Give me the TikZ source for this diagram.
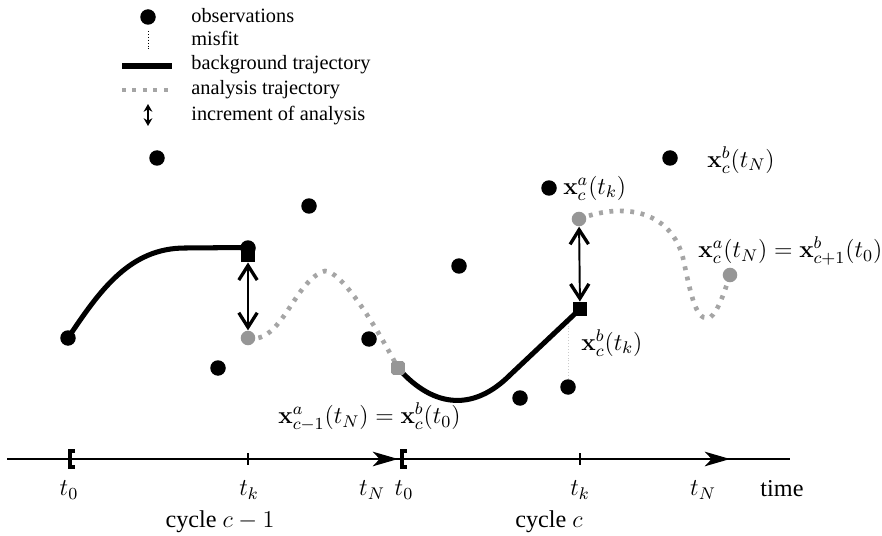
\documentclass[tikz,border=0pt]{standalone}
\usepackage{fix-cm}
\usepackage{amsmath}
\usepackage[no-math]{fontspec}
\setmainfont{Liberation Serif}
\usepackage{xcolor}
\usetikzlibrary{arrows.meta,positioning,backgrounds}
\definecolor{anagray}{RGB}{150,150,150}
\definecolor{analine}{RGB}{165,165,165}

\begin{document}
\begin{tikzpicture}[x=0.01814cm, y=-0.01814cm,
    obs/.style={circle, fill=black, inner sep=0pt, minimum size=8pt},
    bgsq/.style={rectangle, fill=black, inner sep=0pt, minimum size=7.3pt},
    anpt/.style={circle, fill=anagray, inner sep=0pt, minimum size=7.5pt},
    ansq/.style={rectangle, fill=anagray, inner sep=0pt, minimum size=7pt, rounded corners=1pt},
    bgline/.style={line width=2.6pt, line cap=round},
    anline/.style={line width=2.4pt, draw=analine, dash pattern=on 2pt off 3.4pt},
    incr/.style={line width=1pt, {Straight Barb[length=7.5pt,width=9.5pt,line width=1.7pt]}-{Straight Barb[length=7.5pt,width=9.5pt,line width=1.7pt]}},
    misfit/.style={densely dotted, draw=black!20, line width=0.5pt},
    axis/.style={line width=1pt},
    brk/.style={line width=2pt},
    legtext/.style={font=\fontsize{10.5}{12}\selectfont, anchor=west, inner sep=0pt, text height=1.5ex, text depth=.25ex},
    mlab/.style={font=\fontsize{12.5}{15}\selectfont, inner sep=0pt}]
    \useasboundingbox (0,0) rectangle (882,536);

    % Legend
    \node[obs] (lgobs) at (148,17) {};
    \node[legtext] (tobs) at (191,17) {observations};
    \coordinate (lgmA) at (148,31);
    \coordinate (lgmB) at (148,51);
    \draw[densely dotted, line width=0.5pt] (lgmA) -- (lgmB);
    \node[legtext] (tmis) at (191,40) {misfit};
    \coordinate (lgbA) at (122,66);
    \coordinate (lgbB) at (172,66);
    \draw[line width=2.6pt] (lgbA) -- (lgbB);
    \node[legtext] (tbg) at (191,64) {background trajectory};
    \coordinate (lgaA) at (122,90);
    \coordinate (lgaB) at (174,90);
    \draw[anline] (lgaA) -- (lgaB);
    \node[legtext] (tan) at (191,89) {analysis trajectory};
    \coordinate (lgiA) at (148,104);
    \coordinate (lgiB) at (148,126);
    \draw[line width=1pt, {Stealth[length=4pt,width=4.5pt]}-{Stealth[length=4pt,width=4.5pt]}] (lgiA) -- (lgiB);
    \node[legtext] (tinc) at (191,115) {increment of analysis};

    % Observations
    \node[obs] (o1) at (68,338) {};
    \node[obs] (o2) at (157,158) {};
    \node[obs] (o3) at (218,368) {};
    \node[obs] (o4) at (248,248) {};
    \node[obs] (o5) at (309,206) {};
    \node[obs] (o6) at (369,339) {};
    \node[obs] (o7) at (459,266) {};
    \node[obs] (o8) at (520,398) {};
    \node[obs] (o9) at (568,387) {};
    \node[obs] (o10) at (549,188) {};
    \node[obs] (o11) at (670,158) {};

    % Background and analysis states
    \node[bgsq] (bk1) at (248,255) {};
    \node[anpt] (an1) at (248,338) {};
    \node[ansq] (an1e) at (398,368) {};
    \node[bgsq] (bk2) at (580,309) {};
    \node[anpt] (an2) at (579,219) {};
    \node[anpt] (an2e) at (730,275) {};

    % Trajectories
    \begin{scope}[on background layer]
        \coordinate (m1) at (568,323);
        \draw[misfit] (o9) -- (m1);
        \draw[bgline] (o1.center) .. controls (100,290) and (130,248) .. (185,248) -- (bk1.north west);
        \draw[anline] (an1.center) .. controls (282,345) and (294,280) .. (325,271)
            .. controls (340,271) and (370,315) .. (an1e.center);
        \draw[bgline] (an1e.center) .. controls (435,410) and (475,410) .. (510,375) -- (bk2.center);
        \draw[anline] (an2.center) .. controls (630,200) and (672,215) .. (683,258)
            .. controls (690,290) and (695,320) .. (708,318)
            .. controls (715,317) and (722,300) .. (an2e.center);
    \end{scope}

    % Increments of analysis
    \draw[incr] (bk1) -- (an1);
    \draw[incr] (an2) -- (bk2);

    % State labels
    \node[mlab, anchor=west] (lxbN) at (707,160) {$\mathbf{x}_c^b(t_N)$};
    \node[mlab, anchor=west, right=3pt of o10] (lxak) {$\mathbf{x}_c^a(t_k)$};
    \node[mlab, anchor=west] (lxaN) at (698,251) {$\mathbf{x}_c^a(t_N)=\mathbf{x}_{c+1}^b(t_0)$};
    \node[mlab, anchor=west] (lxbk) at (581,343) {$\mathbf{x}_c^b(t_k)$};
    \node[mlab, anchor=west] (lxb0) at (278,417) {$\mathbf{x}_{c-1}^a(t_N)=\mathbf{x}_c^b(t_0)$};

    % Time axis
    \coordinate (tstart) at (7,459);
    \coordinate (tend) at (790,459);
    \coordinate (t0a) at (70,459);
    \coordinate (tka) at (248,459);
    \coordinate (tNa) at (398,459);
    \coordinate (t0b) at (402,459);
    \coordinate (tkb) at (580,459);
    \coordinate (tNb) at (730,459);
    \draw[axis] (tstart) -- (tend);
    \draw[axis, -{Stealth[length=13pt,width=7.5pt,inset=3.5pt]}] (t0a) -- (tNa);
    \draw[axis, -{Stealth[length=13pt,width=7.5pt,inset=3.5pt]}] (t0b) -- (tNb);
    \draw[brk] ([shift={(5,-8)}]t0a) -- ([shift={(0,-8)}]t0a) -- ([shift={(0,8)}]t0a) -- ([shift={(5,8)}]t0a);
    \draw[brk] ([shift={(5,-8)}]t0b) -- ([shift={(0,-8)}]t0b) -- ([shift={(0,8)}]t0b) -- ([shift={(5,8)}]t0b);
    \draw[axis] ([shift={(0,-6)}]tka) -- ([shift={(0,6)}]tka);
    \draw[axis] ([shift={(0,-6)}]tkb) -- ([shift={(0,6)}]tkb);

    % Axis labels
    \node[mlab] (lt0a) at (69,490) {$t_0$};
    \node[mlab] (ltka) at (249,490) {$t_k$};
    \node[mlab] (ltNa) at (372,490) {$t_N$};
    \node[mlab] (lt0b) at (404,490) {$t_0$};
    \node[mlab] (ltkb) at (580,490) {$t_k$};
    \node[mlab] (ltNb) at (703,490) {$t_N$};
    \node[mlab] (ltime) at (782,489) {time};
    \node[mlab] (lcyca) at (220,522) {cycle $c-1$};
    \node[mlab] (lcycb) at (549,522) {cycle $c$};
\end{tikzpicture}
\end{document}
